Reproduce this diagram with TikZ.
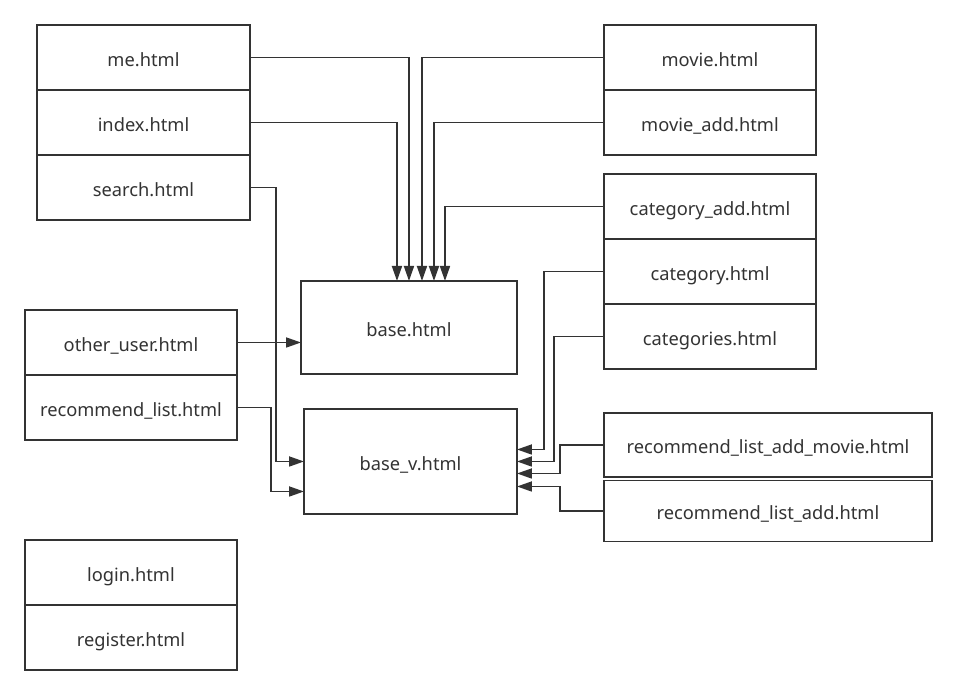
\documentclass[tikz,border=0pt]{standalone}
\usepackage{fontspec}
\setmainfont{Noto Sans}
\usetikzlibrary{arrows.meta, positioning, calc}
\definecolor{linegray}{RGB}{51,51,51}

\begin{document}
\begin{tikzpicture}[x=0.02cm, y=-0.02cm,
  page/.style={draw=linegray, line width=1.1pt, outer sep=0pt, inner sep=0pt,
    minimum width=4.24cm, minimum height=1.3cm, text=linegray,
    text height=1em, text depth=0pt, font=\fontsize{10.4}{12}\selectfont},
  link/.style={draw=linegray, line width=1pt, -{Triangle[length=0.3cm, width=0.2cm]}}]
  \useasboundingbox (0,0) rectangle (957,695);

  % left top group
  \node[page, minimum width=4.26cm, anchor=north west] (me) at (37,25) {me.html};
  \node[page, minimum width=4.26cm, below=0pt of me] (index) {index.html};
  \node[page, minimum width=4.26cm, below=0pt of index] (search) {search.html};

  % right top group
  \node[page, anchor=north west] (movie) at (604,25) {movie.html};
  \node[page, below=0pt of movie] (movieadd) {movie\_add.html};

  \node[page, anchor=north west] (catadd) at (604,174) {category\_add.html};
  \node[page, below=0pt of catadd] (cat) {category.html};
  \node[page, below=0pt of cat] (cats) {categories.html};

  % left middle / bottom
  \node[page, anchor=north west] (other) at (25,310) {other\_user.html};
  \node[page, below=0pt of other] (rlist) {recommend\_list.html};

  \node[page, anchor=north west] (login) at (25,540) {login.html};
  \node[page, below=0pt of login] (register) {register.html};

  % bases
  \node[page, minimum width=4.32cm, minimum height=1.86cm, anchor=north west] (base) at (301,281) {base.html};
  \node[page, minimum width=4.26cm, minimum height=2.1cm, anchor=north west] (basev) at (304,409) {base\_v.html};

  % recommend list pages
  \node[page, minimum width=6.56cm, minimum height=1.28cm, anchor=north west] (rlam) at (604,413) {recommend\_list\_add\_movie.html};
  \node[page, minimum width=6.56cm, minimum height=1.22cm, below=2pt of rlam] (rla) {recommend\_list\_add.html};

  % into base.html
  \draw[link] (index.east) -| ($(base.north)+(-12,0)$);
  \draw[link] (me.east) -| (base.north);
  \draw[link] (movie.west) -| ($(base.north)+(13,0)$);
  \draw[link] (movieadd.west) -| ($(base.north)+(25,0)$);
  \draw[link] (catadd.west) -| ($(base.north)+(36,0)$);
  \draw[link] (other.east) -- (other.east -| base.west);

  % into base_v.html
  \draw[link] (search.east) -- ++(26,0) |- (basev.west);
  \draw[link] (rlist.east) -- ++(34,0) |- ($(basev.west)+(0,30)$);
  \draw[link] (cat.west) -| ($(basev.east)+(27,-12)$) -- ($(basev.east)+(0,-12)$);
  \draw[link] (cats.west) -| ($(basev.east)+(37,0)$) -- (basev.east);
  \draw[link] (rlam.west) -| ($(basev.east)+(43,12)$) -- ($(basev.east)+(0,12)$);
  \draw[link] (rla.west) -| ($(basev.east)+(43,25)$) -- ($(basev.east)+(0,25)$);
\end{tikzpicture}
\end{document}
